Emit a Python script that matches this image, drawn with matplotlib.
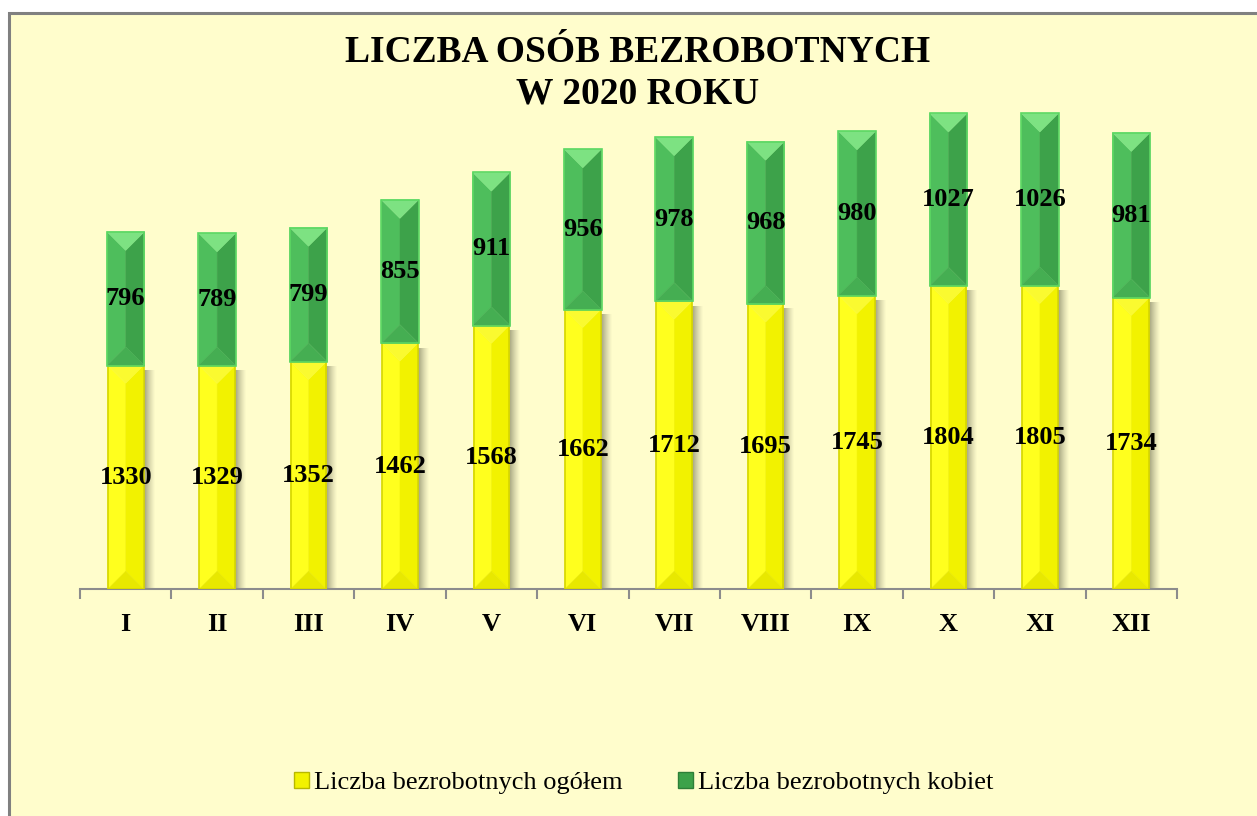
import matplotlib
matplotlib.use("Agg")
import matplotlib.pyplot as plt
from matplotlib.patches import Rectangle, Polygon, Patch
import numpy as np

plt.rcParams['font.family'] = ['Liberation Serif', 'DejaVu Serif']

# months and values
months = ["I", "II", "III", "IV", "V", "VI", "VII", "VIII", "IX", "X", "XI", "XII"]
total = [1330, 1329, 1352, 1462, 1568, 1662, 1712, 1695, 1745, 1804, 1805, 1734]
women = [796, 789, 799, 855, 911, 956, 978, 968, 980, 1027, 1026, 981]
labels = ["Liczba bezrobotnych ogółem", "Liczba bezrobotnych kobiet"]

W, H = 1257, 816
fig = plt.figure(figsize=(W / 100, H / 100), dpi=100)
fig.patch.set_facecolor("white")

# chart panel (yellow area with grey border, cut by the image edge)
panel = Rectangle((9 / W, -0.05), 1.1, 1 - 13 / H + 0.05, transform=fig.transFigure,
                  facecolor="#FFFDCC", edgecolor="#808080", linewidth=2.2, zorder=-10)
fig.patches.append(panel)

ax_left, ax_right = 80, 1177
ax_bot, ax_top = 589, 100
ax = fig.add_axes([ax_left / W, 1 - ax_bot / H, (ax_right - ax_left) / W, (ax_bot - ax_top) / H])
ax.set_zorder(2)
ax.set_facecolor("none")
ymax = 2910
ax.set_xlim(-0.5, len(months) - 0.5)
ax.set_ylim(0, ymax)

px_y = (ax_bot - ax_top) / ymax            # pixels per data unit (y)
px_x = (ax_right - ax_left) / len(months)  # pixels per category

bar_w = 0.39
x = np.arange(len(months))

yellow = dict(left="#FFFF1E", right="#F2F200", top="#FAFA30", bottom="#E8E800", edge="#D6D600")
green = dict(left="#4EBE5C", right="#3DA24A", top="#7DE282", bottom="#45AE52", edge="#5CD863")


def bevel_bar(xc, y0, y1, w, col, z=3):
    x0, x1 = xc - w / 2, xc + w / 2
    d = (w / 2) * px_x / px_y  # bevel depth = half width, in y units
    d = min(d, (y1 - y0) / 2)
    faces = [
        ([(x0, y1), (x0, y0), (xc, y0 + d), (xc, y1 - d)], col["left"]),
        ([(x1, y1), (x1, y0), (xc, y0 + d), (xc, y1 - d)], col["right"]),
        ([(x0, y1), (x1, y1), (xc, y1 - d)], col["top"]),
        ([(x0, y0), (x1, y0), (xc, y0 + d)], col["bottom"]),
    ]
    for pts, c in faces:
        ax.add_patch(Polygon(pts, closed=True, facecolor=c, edgecolor=c, linewidth=0.3, zorder=z))
    ax.add_patch(Rectangle((x0, y0), w, y1 - y0, fill=False, edgecolor=col["edge"],
                           linewidth=1.2, zorder=z + 0.5))


def shadow(xc, y0, y1, w):
    x1 = xc + w / 2
    steps = 11
    for i in range(steps):
        dx = 1.0 / px_x
        a = 0.55 * (1 - i / steps) ** 1.3
        ax.add_patch(Rectangle((x1 + i * dx, y0), dx, y1 - y0 - 25, facecolor="#5E5E45",
                               edgecolor="none", alpha=a, zorder=2))


for i in range(len(months)):
    t, wm = total[i], women[i]
    shadow(x[i], 0, t, bar_w)
    bevel_bar(x[i], 0, t, bar_w, yellow)
    bevel_bar(x[i], t, t + wm, bar_w + 0.02, green, z=4)
    ax.text(x[i], t / 2, str(t), ha="center", va="center", fontsize=19, fontweight="bold", zorder=6)
    ax.text(x[i], t + wm / 2, str(wm), ha="center", va="center", fontsize=19, fontweight="bold", zorder=6)

for s in ["top", "right", "left"]:
    ax.spines[s].set_visible(False)
ax.spines["bottom"].set_color("#8C8C8C")
ax.spines["bottom"].set_linewidth(1.5)
ax.set_yticks([])
ax.set_xticks(x)
ax.set_xticklabels(months, fontsize=19, fontweight="bold")
ax.tick_params(axis="x", which="major", length=0, pad=17)
ax.set_xticks(np.arange(-0.5, len(months)), minor=True)
ax.tick_params(axis="x", which="minor", length=7, width=1.5, color="#8C8C8C")

fig.text(638 / W, 1 - 73 / H, "LICZBA OSÓB BEZROBOTNYCH\nW 2020 ROKU", ha="center", va="center",
         fontsize=27, fontweight="bold", linespacing=1.25)

handles = [Patch(facecolor="#F2F200", edgecolor="#B8B800"),
           Patch(facecolor="#3DA24A", edgecolor="#2E7F38")]
fig.legend(handles, labels, loc="center", bbox_to_anchor=(644 / W, 1 - 783 / H), ncol=2,
           frameon=False, fontsize=19, handlelength=0.55, handleheight=0.55,
           handletextpad=0.2, columnspacing=2.1)

fig.savefig("out.png", dpi=100, facecolor=fig.get_facecolor())
